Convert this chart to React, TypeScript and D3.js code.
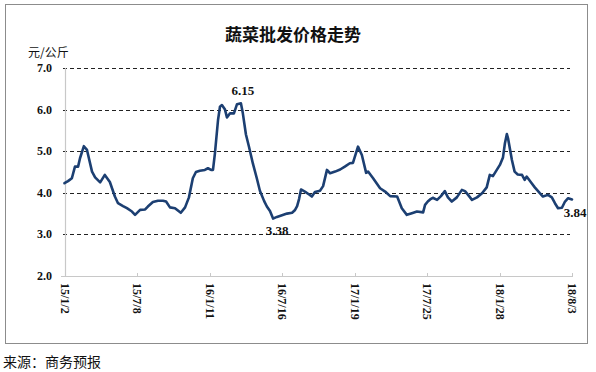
import React from "react";
import * as d3 from "d3";

const title = "蔬菜批发价格走势";
const unitLabel = "元/公斤";
const sourceLabel = "来源：商务预报";

const dates: string[] = [
  "2015-01-02","2015-01-11","2015-01-21","2015-01-29","2015-02-06","2015-02-11","2015-02-21","2015-03-01",
  "2015-03-14","2015-03-22","2015-04-04","2015-04-16","2015-04-29","2015-05-12","2015-05-20","2015-06-02",
  "2015-06-12","2015-06-25","2015-07-03","2015-07-16","2015-07-29","2015-08-05","2015-08-18","2015-08-31",
  "2015-09-13","2015-09-21","2015-10-01","2015-10-14","2015-10-29","2015-11-09","2015-11-19","2015-11-29",
  "2015-12-07","2015-12-17","2015-12-30","2016-01-07","2016-01-15","2016-01-20","2016-01-25","2016-02-02",
  "2016-02-07","2016-02-12","2016-02-20","2016-02-25","2016-03-04","2016-03-14","2016-03-22","2016-04-01",
  "2016-04-06","2016-04-14","2016-04-22","2016-05-02","2016-05-12","2016-05-20","2016-05-31","2016-06-07",
  "2016-06-15","2016-06-23","2016-07-03","2016-07-16","2016-07-29","2016-08-11","2016-08-18","2016-08-24",
  "2016-08-29","2016-09-03","2016-09-13","2016-09-24","2016-10-01","2016-10-09","2016-10-22","2016-10-30",
  "2016-11-09","2016-11-17","2016-11-30","2016-12-13","2016-12-25","2017-01-07","2017-01-15","2017-01-28",
  "2017-02-07","2017-02-18","2017-02-23","2017-03-08","2017-03-26","2017-04-08","2017-04-21","2017-05-09",
  "2017-05-21","2017-06-03","2017-06-16","2017-06-29","2017-07-15","2017-07-20","2017-07-27","2017-08-02",
  "2017-08-09","2017-08-20","2017-08-30","2017-09-09","2017-09-17","2017-09-27","2017-10-10","2017-10-23",
  "2017-10-31","2017-11-08","2017-11-18","2017-12-01","2017-12-14","2017-12-26","2018-01-03","2018-01-11",
  "2018-01-21","2018-01-29","2018-02-06","2018-02-11","2018-02-16","2018-02-19","2018-03-01","2018-03-08",
  "2018-03-16","2018-03-27","2018-04-03","2018-04-08","2018-04-21","2018-04-29","2018-05-12","2018-05-20",
  "2018-06-02","2018-06-12","2018-06-20","2018-06-28","2018-07-08","2018-07-16","2018-07-24","2018-08-03"
];

const prices: number[] = [
  4.23,4.28,4.35,4.63,4.63,4.83,5.12,5.03,
  4.51,4.37,4.25,4.43,4.26,3.91,3.75,3.68,
  3.63,3.55,3.47,3.59,3.60,3.67,3.78,3.81,
  3.81,3.79,3.65,3.63,3.52,3.65,3.89,4.35,
  4.50,4.53,4.55,4.59,4.55,4.55,4.95,5.75,
  6.07,6.11,6.00,5.81,5.91,5.91,6.13,6.15,
  5.91,5.40,5.10,4.70,4.35,4.05,3.80,3.67,
  3.56,3.38,3.42,3.46,3.50,3.52,3.58,3.68,
  3.85,4.08,4.03,3.96,3.91,4.02,4.05,4.16,
  4.55,4.47,4.51,4.56,4.63,4.71,4.72,5.11,
  4.91,4.48,4.51,4.35,4.11,4.03,3.92,3.91,
  3.63,3.47,3.51,3.55,3.53,3.71,3.79,3.84,
  3.88,3.83,3.92,4.04,3.89,3.79,3.89,4.07,
  4.04,3.95,3.83,3.89,3.99,4.13,4.43,4.40,
  4.55,4.67,4.85,5.19,5.41,5.31,4.79,4.51,
  4.44,4.43,4.31,4.39,4.23,4.13,3.99,3.91,
  3.95,3.89,3.75,3.63,3.64,3.79,3.87,3.84
];

const xTickDates: string[] = ["2015-01-02","2015-07-08","2016-01-11","2016-07-16","2017-01-19","2017-07-25","2018-01-28","2018-08-03"];
const xTickLabels: string[] = ["15/1/2","15/7/8","16/1/11","16/7/16","17/1/19","17/7/25","18/1/28","18/8/3"];
const yTicks: number[] = [2, 3, 4, 5, 6, 7];

const annotations = [
  { date: "2016-04-01", value: 6.15, label: "6.15", dx: 2, dy: -8 },
  { date: "2016-06-23", value: 3.38, label: "3.38", dx: 4, dy: 16 },
  { date: "2018-08-03", value: 3.84, label: "3.84", dx: 3, dy: 18 },
];

const W = 596, H = 372;
const left = 64.5, right = 572, top = 68, bottom = 276;

export default function App() {
  const parse = d3.timeParse("%Y-%m-%d");
  const x = d3.scaleTime()
    .domain([parse(xTickDates[0])!, parse(xTickDates[xTickDates.length - 1])!])
    .range([left, right]);
  const y = d3.scaleLinear().domain([2, 7]).range([bottom, top]);
  const data = dates.map((d, i) => ({ d: parse(d)!, v: prices[i] }));
  const line = d3.line<{ d: Date; v: number }>()
    .x((p) => x(p.d))
    .y((p) => y(p.v))
    .curve(d3.curveLinear);

  const serif = "'Liberation Serif', 'Times New Roman', serif";
  const cjk = "'Noto Sans CJK SC', sans-serif";

  return (
    <svg width={W} height={H} style={{ position: "absolute", left: 0, top: 0, background: "#fff" }}>
      <rect x={5.5} y={4.5} width={582} height={339} fill="#fff" stroke="#8c8c8c" strokeWidth={1} />
      <text x={293} y={41} textAnchor="middle" fontFamily={cjk} fontWeight="bold" fontSize={17} fill="#111">{title}</text>
      <text x={28} y={57} fontFamily={cjk} fontSize={12} fill="#111">{unitLabel}</text>

      {yTicks.filter((t) => t > 2).map((t) => (
        <line key={"g" + t} x1={63} x2={570} y1={Math.round(y(t)) + 0.5} y2={Math.round(y(t)) + 0.5}
          stroke="#222" strokeWidth={1} strokeDasharray="4,3" />
      ))}
      <line x1={65.5} x2={65.5} y1={top} y2={bottom} stroke="#c8c8c8" strokeWidth={1.2} />
      <line x1={61} x2={572} y1={Math.round(y(2)) + 0.5} y2={Math.round(y(2)) + 0.5} stroke="#c8c8c8" strokeWidth={1.2} />
      {yTicks.map((t) => (
        <text key={"yl" + t} x={52} y={y(t) + 4} textAnchor="end" fontFamily={serif} fontWeight="bold" fontSize={12} fill="#111">
          {t.toFixed(1)}
        </text>
      ))}
      {xTickDates.map((d, i) => {
        const px = Math.round(x(parse(d)!)) + 0.5;
        return (
          <g key={"xt" + i}>
            <line x1={px} x2={px} y1={bottom - 3} y2={bottom + 1} stroke="#c8c8c8" strokeWidth={1} />
            <text transform={`translate(${px},${bottom + 7}) rotate(90)`} dy="0.35em" textAnchor="start"
              fontFamily={serif} fontWeight="bold" fontSize={12} fill="#111">
              {xTickLabels[i]}
            </text>
          </g>
        );
      })}

      <path d={line(data) || ""} fill="none" stroke="#1c3f72" strokeWidth={2.6} strokeLinejoin="round" strokeLinecap="round" />

      {annotations.map((a) => (
        <text key={a.label} x={x(parse(a.date)!) + a.dx} y={y(a.value) + a.dy} textAnchor="middle"
          fontFamily={serif} fontWeight="bold" fontSize={13} fill="#111">
          {a.label}
        </text>
      ))}

      <text x={3} y={367} fontFamily={cjk} fontSize={14} fill="#111">{sourceLabel}</text>
    </svg>
  );
}
